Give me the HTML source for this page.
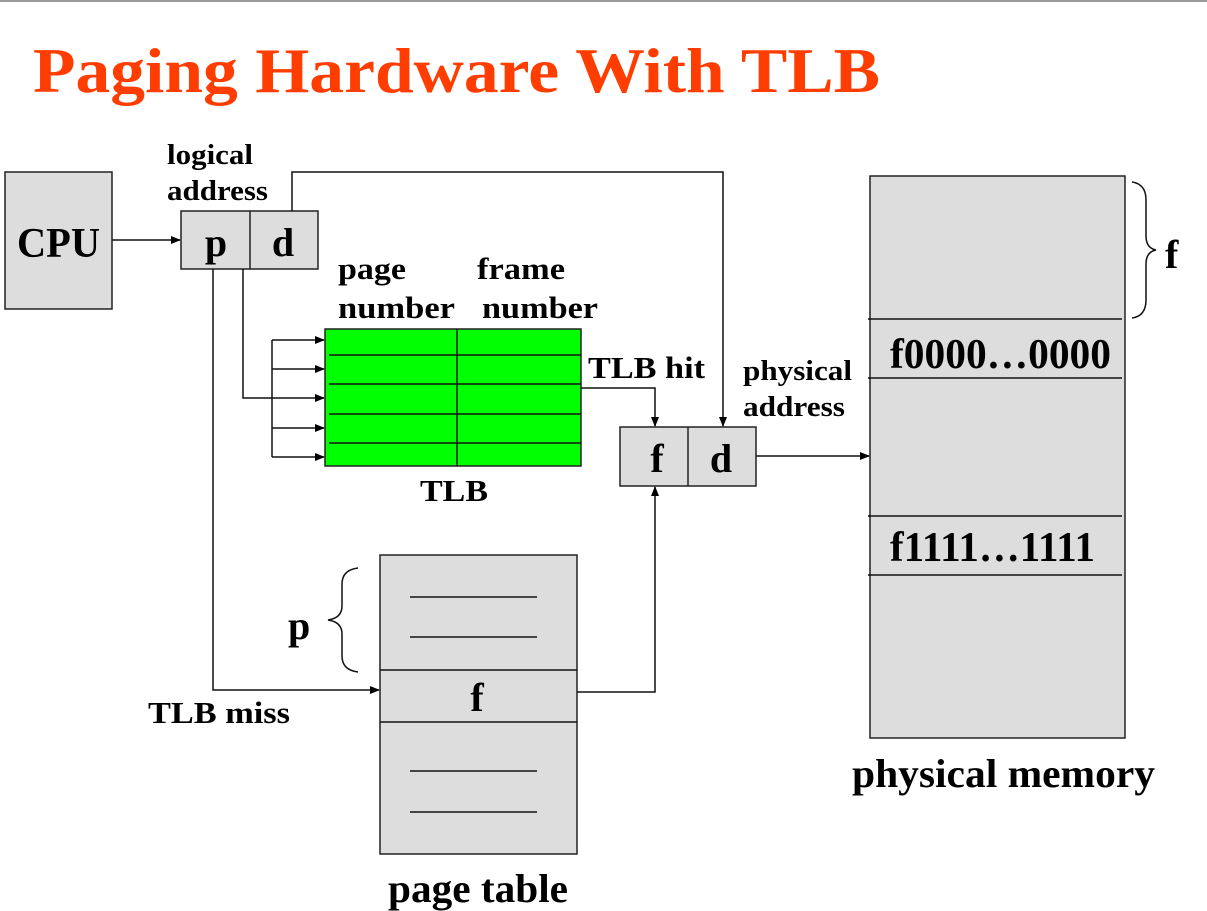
<!DOCTYPE html>
<html><head><meta charset="utf-8"><style>
html,body{margin:0;padding:0;background:#fff;width:1207px;height:911px;overflow:hidden}
svg{display:block}
text{font-family:"Liberation Serif",serif;font-weight:bold;fill:#000}
</style></head><body>
<svg width="1207" height="911" viewBox="0 0 1207 911" xmlns="http://www.w3.org/2000/svg">
<defs><marker id="a" markerWidth="10" markerHeight="8" refX="9" refY="4" orient="auto" markerUnits="userSpaceOnUse"><path d="M0,0 L10,4 L0,8 z" fill="#000"/></marker></defs>
<line x1="0" y1="1" x2="1207" y2="1" stroke="#999" stroke-width="2"/>
<text x="33" y="92" font-size="64" style="fill:#ff3d00" textLength="847" lengthAdjust="spacingAndGlyphs">Paging Hardware With TLB</text>
<g stroke="#222" stroke-width="1.5" fill="#ddd">
<rect x="5" y="172" width="107" height="137"/>
<rect x="181" y="211" width="137" height="58"/><line x1="250" y1="211" x2="250" y2="269"/>
<rect x="620" y="427" width="136" height="59"/><line x1="688" y1="427" x2="688" y2="486"/>
<rect x="870" y="176" width="255" height="562"/>
<rect x="380" y="555" width="197" height="299"/>
<rect x="325" y="329" width="256" height="137" fill="#00ff00"/>
</g>
<g stroke="#111" stroke-width="1.5" fill="none">
<line x1="457" y1="329" x2="457" y2="466"/>
<line x1="329" y1="355" x2="581" y2="355"/><line x1="329" y1="384" x2="581" y2="384"/>
<line x1="329" y1="414" x2="581" y2="414"/><line x1="329" y1="443" x2="581" y2="443"/>
<line x1="868" y1="319" x2="1122" y2="319"/><line x1="868" y1="378" x2="1122" y2="378"/>
<line x1="868" y1="516" x2="1122" y2="516"/><line x1="868" y1="575" x2="1122" y2="575"/>
<line x1="380" y1="670" x2="577" y2="670"/><line x1="380" y1="722" x2="577" y2="722"/>
<line x1="410" y1="597" x2="537" y2="597"/><line x1="410" y1="637" x2="537" y2="637"/>
<line x1="410" y1="771" x2="537" y2="771"/><line x1="410" y1="812" x2="537" y2="812"/>
<line x1="112" y1="240" x2="180" y2="240" marker-end="url(#a)"/>
<polyline points="292,211 292,172 723,172 723,426" marker-end="url(#a)"/>
<polyline points="213,269 213,690 379,690" marker-end="url(#a)"/>
<polyline points="243,269 243,398 324,398" marker-end="url(#a)"/>
<line x1="272" y1="340" x2="272" y2="457"/>
<line x1="272" y1="340" x2="324" y2="340" marker-end="url(#a)"/>
<line x1="272" y1="369" x2="324" y2="369" marker-end="url(#a)"/>
<line x1="272" y1="428" x2="324" y2="428" marker-end="url(#a)"/>
<line x1="272" y1="457" x2="324" y2="457" marker-end="url(#a)"/>
<polyline points="581,388 655,388 655,426" marker-end="url(#a)"/>
<polyline points="577,692 655,692 655,487" marker-end="url(#a)"/>
<line x1="756" y1="456" x2="869" y2="456" marker-end="url(#a)"/>
<path d="M1132,182 Q1146,184 1146,200 L1146,236 Q1146,248 1156,250 Q1146,252 1146,264 L1146,300 Q1146,316 1132,318"/>
<path d="M358,568 Q342,570 342,584 L342,606 Q342,618 328,620 Q342,622 342,634 L342,656 Q342,670 358,672"/>
</g>
<g lengthAdjust="spacingAndGlyphs">
<text x="17" y="257" font-size="42" textLength="83" lengthAdjust="spacingAndGlyphs">CPU</text>
<text x="167" y="164" font-size="29" textLength="86" lengthAdjust="spacingAndGlyphs">logical</text>
<text x="167" y="200" font-size="29" textLength="101" lengthAdjust="spacingAndGlyphs">address</text>
<text x="216" y="256" font-size="40" text-anchor="middle">p</text>
<text x="283" y="256" font-size="40" text-anchor="middle">d</text>
<text x="338" y="279" font-size="31" textLength="68" lengthAdjust="spacingAndGlyphs">page</text>
<text x="477" y="279" font-size="31" textLength="88" lengthAdjust="spacingAndGlyphs">frame</text>
<text x="338" y="318" font-size="31" textLength="117" lengthAdjust="spacingAndGlyphs">number</text>
<text x="482" y="318" font-size="31" textLength="116" lengthAdjust="spacingAndGlyphs">number</text>
<text x="420" y="501" font-size="31" textLength="68" lengthAdjust="spacingAndGlyphs">TLB</text>
<text x="588" y="378" font-size="31" textLength="117" lengthAdjust="spacingAndGlyphs">TLB hit</text>
<text x="743" y="380" font-size="29" textLength="109" lengthAdjust="spacingAndGlyphs">physical</text>
<text x="743" y="416" font-size="29" textLength="102" lengthAdjust="spacingAndGlyphs">address</text>
<text x="657" y="472" font-size="40" text-anchor="middle">f</text>
<text x="721" y="472" font-size="40" text-anchor="middle">d</text>
<text x="890" y="368" font-size="42" textLength="221" lengthAdjust="spacingAndGlyphs">f0000…0000</text>
<text x="890" y="561" font-size="42" textLength="205" lengthAdjust="spacingAndGlyphs">f1111…1111</text>
<text x="1165" y="268" font-size="40">f</text>
<text x="852" y="787" font-size="40" textLength="303" lengthAdjust="spacingAndGlyphs">physical memory</text>
<text x="477" y="711" font-size="40" text-anchor="middle">f</text>
<text x="288" y="639" font-size="40">p</text>
<text x="148" y="723" font-size="31" textLength="142" lengthAdjust="spacingAndGlyphs">TLB miss</text>
<text x="388" y="902" font-size="40" textLength="180" lengthAdjust="spacingAndGlyphs">page table</text>
</g>
</svg>
</body></html>
